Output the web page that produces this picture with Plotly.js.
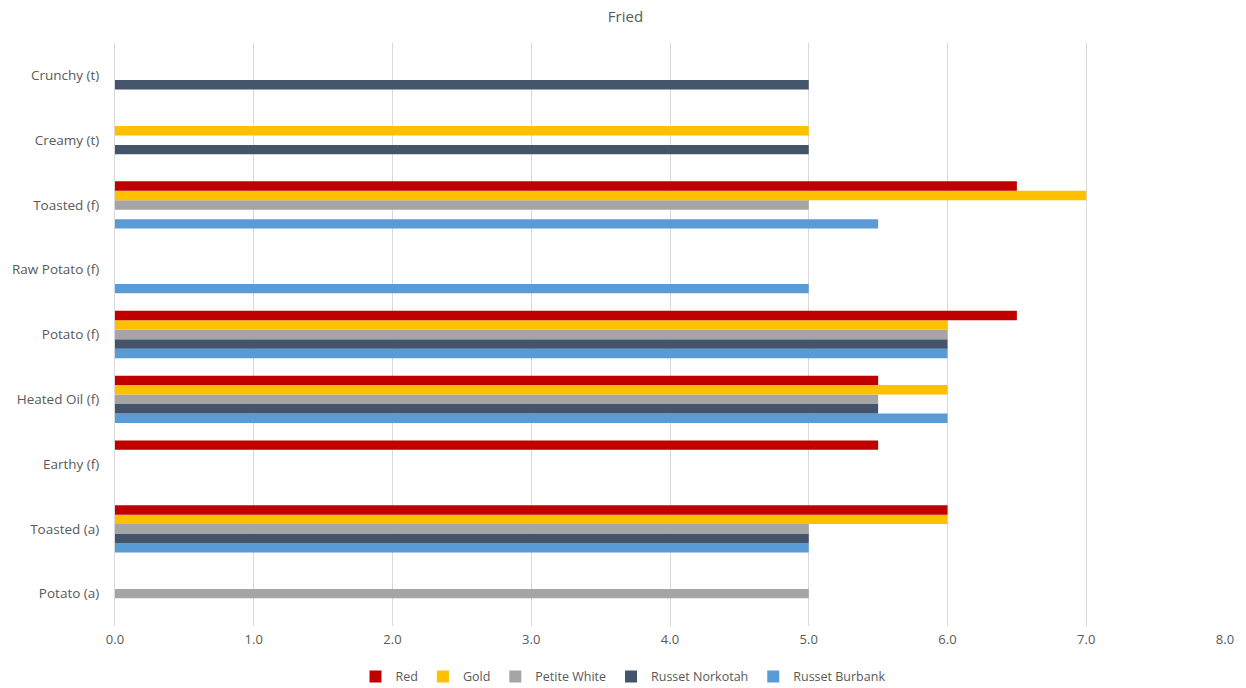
<!DOCTYPE html>
<html>
<head>
<meta charset="utf-8">
<script src="https://cdn.plot.ly/plotly-3.0.1.min.js"></script>
<style>html,body{margin:0;padding:0;background:#fff;}#chart{width:1246px;height:688px;}</style>
</head>
<body>
<div id="chart"></div>
<script>
const categories = ["Potato (a)", "Toasted (a)", "Earthy (f)", "Heated Oil (f)", "Potato (f)", "Raw Potato (f)", "Toasted (f)", "Creamy (t)", "Crunchy (t)"];
const seriesNames = ["Red", "Gold", "Petite White", "Russet Norkotah", "Russet Burbank"];
const red = [null, 6.0, 5.5, 5.5, 6.5, null, 6.5, null, null];
const gold = [null, 6.0, null, 6.0, 6.0, null, 7.0, 5.0, null];
const petiteWhite = [5.0, 5.0, null, 5.5, 6.0, null, 5.0, null, null];
const russetNorkotah = [null, 5.0, null, 5.5, 6.0, null, null, 5.0, 5.0];
const russetBurbank = [null, 5.0, null, 6.0, 6.0, 5.0, 5.5, null, null];
const colors = ["#C00000", "#FFC000", "#A5A5A5", "#44546A", "#5B9BD5"];
const seriesValues = [red, gold, petiteWhite, russetNorkotah, russetBurbank];

const traces = [];
for (let i = seriesValues.length - 1; i >= 0; i--) {
  traces.push({
    type: "bar",
    orientation: "h",
    name: seriesNames[i],
    y: categories,
    x: seriesValues[i],
    marker: {color: colors[i]},
    hoverinfo: "x+name"
  });
}

const fontFam = "'Open Sans', 'Liberation Sans', sans-serif";
const layout = {
  width: 1246,
  height: 688,
  paper_bgcolor: "#ffffff",
  plot_bgcolor: "#ffffff",
  font: {family: fontFam, size: 12, color: "#595959"},
  title: {text: "Fried", x: 0.502, xanchor: "center", y: 0.975, yanchor: "middle", font: {family: fontFam, size: 15, color: "#595959"}},
  margin: {l: 115, r: 21, t: 43, b: 62},
  barmode: "group",
  bargap: 0.27,
  bargroupgap: 0,
  xaxis: {
    range: [0, 8],
    dtick: 1,
    tick0: 0,
    tickformat: ".1f",
    showgrid: true,
    gridcolor: "#D9D9D9",
    gridwidth: 1,
    zeroline: false,
    showline: false,
    ticks: "",
    ticklabelstandoff: 4,
    tickfont: {family: fontFam, size: 13, color: "#595959"}
  },
  yaxis: {
    type: "category",
    categoryorder: "array",
    categoryarray: categories,
    showgrid: false,
    zeroline: false,
    showline: true,
    linecolor: "#D9D9D9",
    ticks: "",
    ticklabelstandoff: 12,
    tickfont: {family: fontFam, size: 13.5, color: "#595959"}
  },
  legend: {
    orientation: "h",
    traceorder: "reversed",
    x: 0.5,
    xanchor: "center",
    xref: "container",
    y: 0.016,
    yanchor: "middle",
    yref: "container",
    font: {family: fontFam, size: 12.5, color: "#595959"},
    itemwidth: 30
  },
  showlegend: true
};

Plotly.newPlot("chart", traces, layout, {displayModeBar: false, staticPlot: true});
</script>
</body>
</html>
